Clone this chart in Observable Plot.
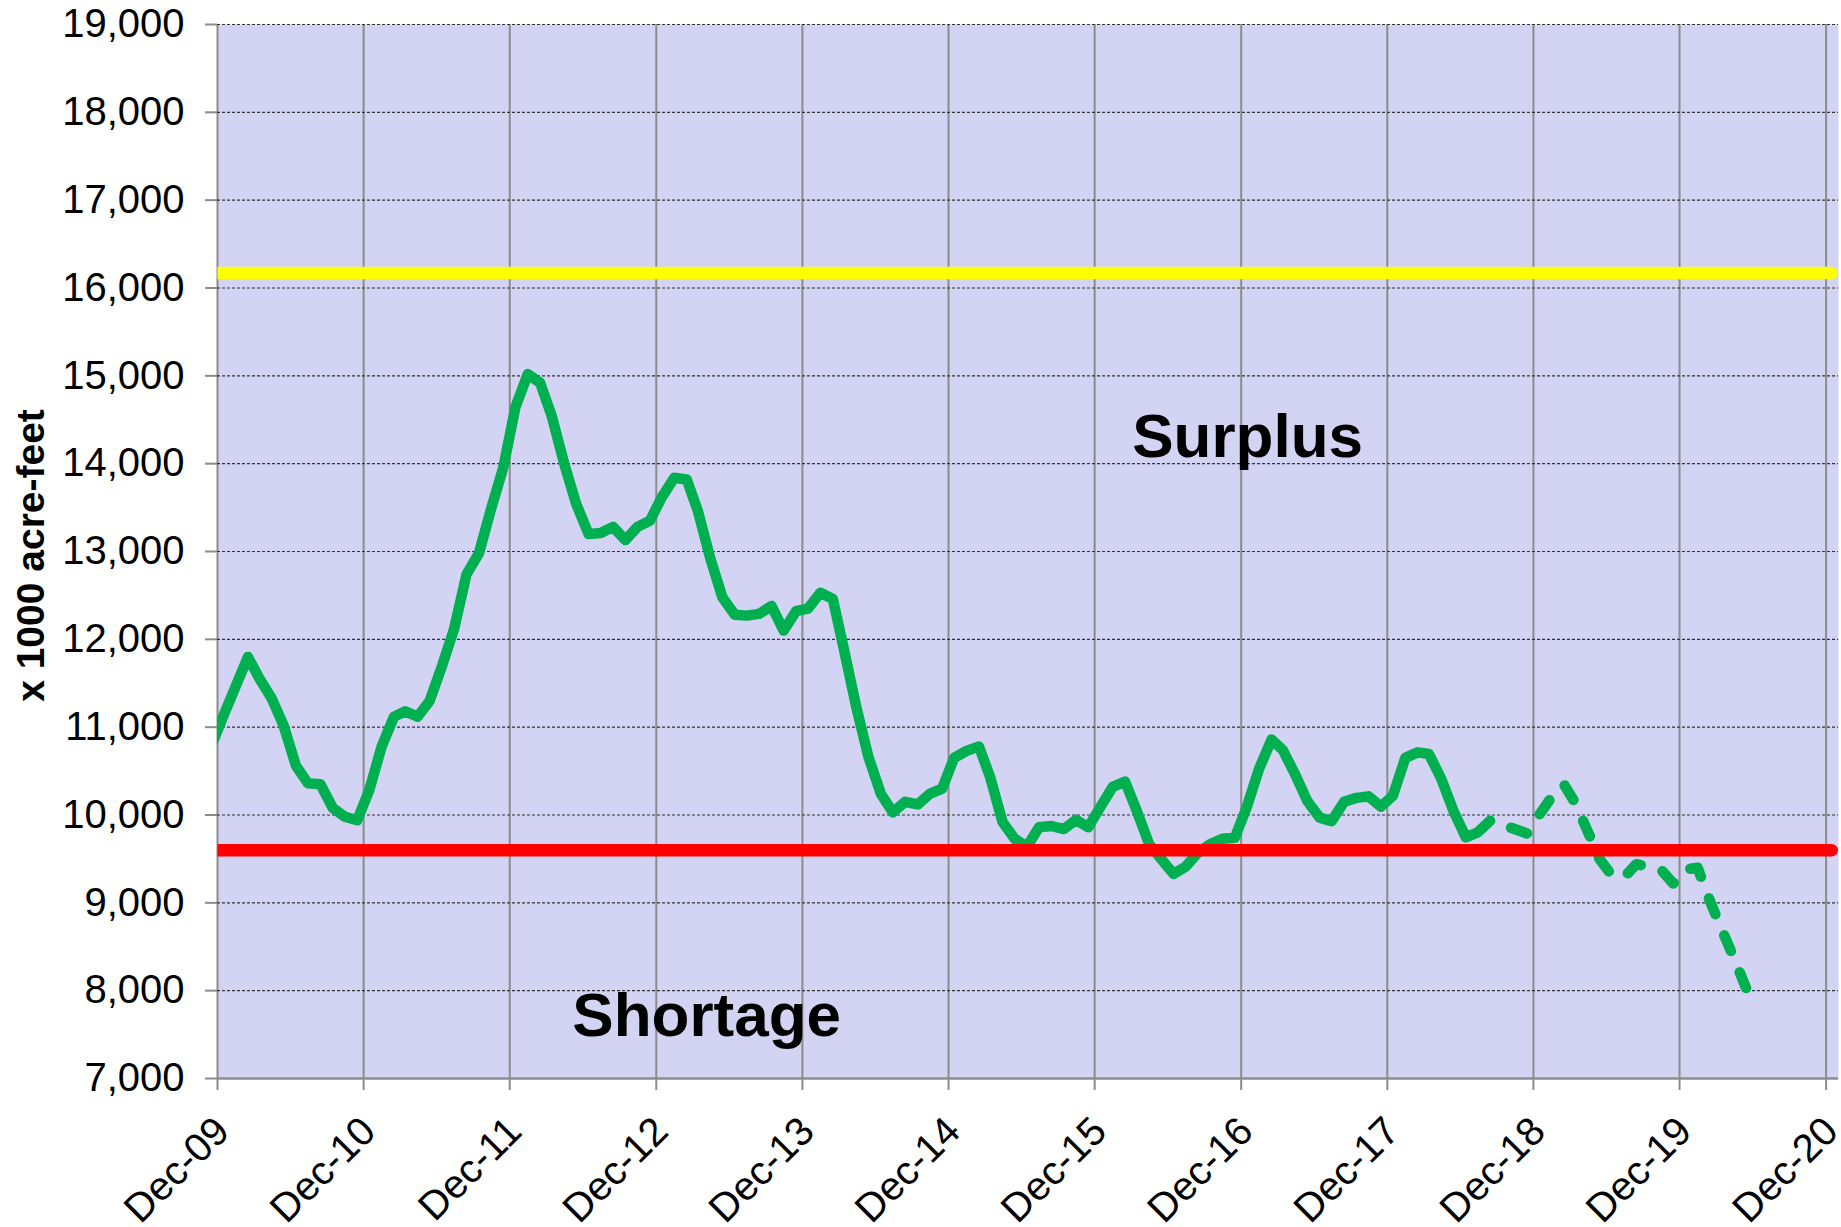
<!DOCTYPE html>
<html>
<head>
<meta charset="utf-8">
<script src="https://cdn.jsdelivr.net/npm/d3@7"></script>
<script src="https://cdn.jsdelivr.net/npm/@observablehq/plot@0.6"></script>
<style>
  html, body { margin: 0; padding: 0; background: #fff; overflow: hidden; }
</style>
</head>
<body>
<div id="chart"></div>
<script>
// ---- data ----
const yTicks = [7000, 8000, 9000, 10000, 11000, 12000, 13000, 14000, 15000, 16000, 17000, 18000, 19000];
const xTickLabels = ["Dec-09", "Dec-10", "Dec-11", "Dec-12", "Dec-13", "Dec-14", "Dec-15", "Dec-16", "Dec-17", "Dec-18", "Dec-19", "Dec-20"];
const surplusLevel = 16170;
const shortageLevel = 9600;

// observed storage, monthly (mid-month), starting Nov 2009
const observedStart = "2009-11";
const observedValues = [
  10780, 11120, 11460, 11800, 11560, 11330, 11020, 10560, 10360, 10350, 10080, 9980, 9940,
  10280, 10780, 11120, 11180, 11120, 11300, 11700, 12120, 12740, 12980, 13480, 13960,
  14640, 15020, 14920, 14540, 14000, 13540, 13200, 13210, 13280, 13130, 13280, 13350,
  13620, 13840, 13820, 13460, 12920, 12480, 12280, 12270, 12290, 12380, 12100, 12320,
  12350, 12530, 12460, 11880, 11220, 10660, 10240, 10030, 10150, 10120, 10240, 10300,
  10650, 10730, 10780, 10430, 9920, 9730, 9640, 9860, 9875, 9840, 9945, 9860,
  10090, 10320, 10380, 10050, 9670, 9500, 9330, 9410, 9570, 9670, 9730, 9740,
  10090, 10530, 10860, 10740, 10460, 10160, 9970, 9930, 10150, 10195, 10212, 10095,
  10220, 10650, 10713, 10694, 10410, 10049, 9746, 9803, 9935
];

// projected storage, monthly (mid-month), starting Aug 2018
const projectedStart = "2018-08";
const projectedValues = [
  9935, 9890, 9840, 9790, 10000, 10200, 10350, 10140, 9820, 9500, 9310, 9290,
  9440, 9410, 9380, 9220, 9380, 9400, 9020, 8700, 8370, 8030
];

const surplusLabel = {label: "Surplus", date: "2016-12-17", value: 14300};
const shortageLabel = {label: "Shortage", date: "2013-04-06", value: 7715};
const yAxisLabel = "x 1000 acre-feet";

// ---- build ----
function monthSeries(start, values) {
  const [y, m] = start.split("-").map(Number);
  return values.map((v, i) => ({date: new Date(Date.UTC(y, m - 1 + i, 15)), value: v}));
}
const observed = monthSeries(observedStart, observedValues);
const projected = monthSeries(projectedStart, projectedValues);
const xTicks = xTickLabels.map((l, i) => new Date(Date.UTC(2009 + i, 11, 1)));
const xStart = new Date(Date.UTC(2009, 11, 1));
const xEnd = new Date(Date.UTC(2021, 0, 1));
const levelEnd = new Date(Date.UTC(2020, 11, 15));
const surplusLine = [{date: xStart, value: surplusLevel}, {date: levelEnd, value: surplusLevel}];
const shortageLine = [{date: xStart, value: shortageLevel}, {date: levelEnd, value: shortageLevel}];

const green = "#00b050";
const grey = "#8c8c8c";
const DASH = 17, GAP = 23;

const chart = Plot.plot({
  width: 1841,
  height: 1227,
  marginLeft: 217,
  marginRight: 3,
  marginTop: 24,
  marginBottom: 149,
  x: {type: "utc", domain: [xStart, xEnd]},
  y: {domain: [7000, 19000]},
  style: {fontFamily: "'Liberation Sans', Arial, sans-serif", fontSize: "40px", color: "black", background: "white", overflow: "visible"},
  marks: [
    Plot.frame({fill: "#d3d3f3", stroke: "none"}),
    Plot.gridX(xTicks, {stroke: grey, strokeOpacity: 1, strokeWidth: 2}),
    Plot.gridY(yTicks, {stroke: "#333", strokeOpacity: 1, strokeWidth: 1.2, strokeDasharray: "3,2"}),
    Plot.ruleY([7000], {stroke: grey, strokeWidth: 2.5}),
    Plot.line(surplusLine, {x: "date", y: "value", stroke: "#ffff00", strokeWidth: 12.5, strokeLinecap: "butt"}),
    Plot.dot(surplusLine.slice(1), {x: "date", y: "value", r: 6.25, fill: "#ffff00", stroke: "none"}),
    Plot.line(observed, {x: "date", y: "value", stroke: green, strokeWidth: 10.5, strokeLinejoin: "round", strokeLinecap: "round", clip: true}),
    Plot.line(projected, {x: "date", y: "value", stroke: green, strokeWidth: 10.5, strokeLinejoin: "round", strokeLinecap: "round", strokeDasharray: `${DASH},${GAP}`}),
    Plot.line(shortageLine, {x: "date", y: "value", stroke: "#ff0000", strokeWidth: 12.5, strokeLinecap: "butt"}),
    Plot.dot(shortageLine.slice(1), {x: "date", y: "value", r: 6.25, fill: "#ff0000", stroke: "none"}),
    Plot.text([surplusLabel, shortageLabel], {x: d => new Date(d.date + "T00:00Z"), y: "value", text: "label", fontSize: 62, fontWeight: "bold", lineAnchor: "middle", fill: "black"}),
    Plot.axisY({ticks: yTicks, tickSize: 12, tickPadding: 21, tickFormat: d3.format(","), stroke: grey, strokeWidth: 2, fill: "black", fontSize: 40, label: null}),
    Plot.axisX({ticks: xTicks, tickSize: 12, tickFormat: () => "", stroke: grey, strokeWidth: 2, label: null}),
    Plot.text(xTicks, {x: d => d, text: (d, i) => xTickLabels[i], frameAnchor: "bottom", dx: 5, dy: 46, rotate: -45, textAnchor: "end", lineAnchor: "middle", fontSize: 40, fill: "black"}),
    Plot.text([yAxisLabel], {frameAnchor: "left", dx: -186, dy: 4, rotate: -90, text: d => d, fontWeight: "bold", fontSize: 39, lineAnchor: "middle", textAnchor: "middle", fill: "black"})
  ]
});
document.getElementById("chart").appendChild(chart);

// make the dashed projection end on a dash
const P = DASH + GAP;
chart.querySelectorAll("[stroke-dasharray]").forEach(g => {
  if (g.getAttribute("stroke-dasharray").replace(/\s/g, "") !== `${DASH},${GAP}`) return;
  const path = g.querySelector("path");
  if (!path) return;
  const L = path.getTotalLength();
  const off = (((DASH - L) % P) + P) % P;
  g.setAttribute("stroke-dashoffset", off);
});
</script>
</body>
</html>
